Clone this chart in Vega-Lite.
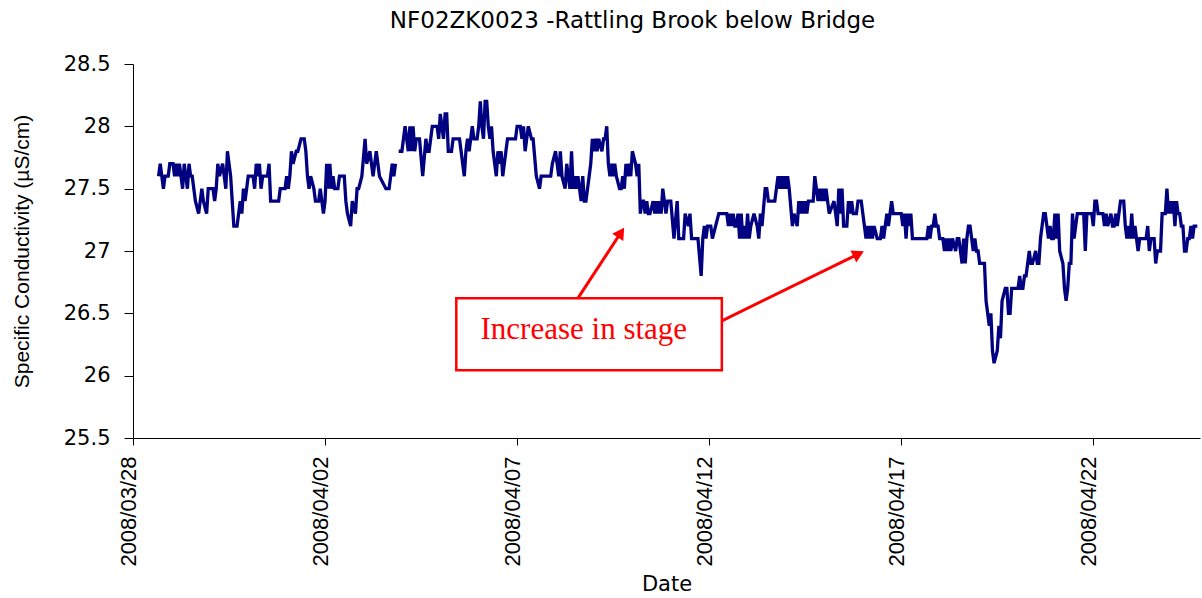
{
"$schema":"https://vega.github.io/schema/vega-lite/v6.json",
"width":1067,"height":374,
"autosize":{"type":"none"},
"padding":{"left":133,"top":64,"right":2,"bottom":160},
"background":"white",
"config":{"view":{"stroke":null}},
"title":{"text":"NF02ZK0023 -Rattling Brook below Bridge","font":"DejaVu Sans","fontSize":23,"fontWeight":"normal","color":"black","frame":"group","anchor":"middle","offset":20,"dx":-34},
"datasets":{
"cond":[
{"t":"2008-03-28T16:00","v":27.6},{"t":"2008-03-28T17:00","v":27.7},{"t":"2008-03-28T19:00","v":27.5},{"t":"2008-03-28T20:00","v":27.6},{"t":"2008-03-28T22:00","v":27.6},{"t":"2008-03-28T23:00","v":27.7},
{"t":"2008-03-29T01:00","v":27.7},{"t":"2008-03-29T02:00","v":27.6},{"t":"2008-03-29T03:00","v":27.7},{"t":"2008-03-29T04:00","v":27.6},{"t":"2008-03-29T05:00","v":27.7},{"t":"2008-03-29T07:00","v":27.5},{"t":"2008-03-29T08:00","v":27.7},{"t":"2008-03-29T09:00","v":27.6},{"t":"2008-03-29T10:00","v":27.5},{"t":"2008-03-29T11:00","v":27.7},{"t":"2008-03-29T12:00","v":27.6},{"t":"2008-03-29T13:00","v":27.6},{"t":"2008-03-29T14:00","v":27.5},{"t":"2008-03-29T15:00","v":27.4},{"t":"2008-03-29T17:00","v":27.3},{"t":"2008-03-29T18:00","v":27.4},{"t":"2008-03-29T19:00","v":27.5},{"t":"2008-03-29T20:00","v":27.4},{"t":"2008-03-29T22:00","v":27.3},{"t":"2008-03-29T23:00","v":27.5},
{"t":"2008-03-30T02:00","v":27.5},{"t":"2008-03-30T03:00","v":27.4},{"t":"2008-03-30T04:00","v":27.5},{"t":"2008-03-30T05:00","v":27.7},{"t":"2008-03-30T06:00","v":27.6},{"t":"2008-03-30T08:00","v":27.7},{"t":"2008-03-30T09:00","v":27.6},{"t":"2008-03-30T10:00","v":27.5},{"t":"2008-03-30T11:00","v":27.8},{"t":"2008-03-30T13:00","v":27.6},{"t":"2008-03-30T14:00","v":27.4},{"t":"2008-03-30T15:00","v":27.2},{"t":"2008-03-30T17:00","v":27.2},{"t":"2008-03-30T18:00","v":27.3},{"t":"2008-03-30T19:00","v":27.4},{"t":"2008-03-30T20:00","v":27.3},{"t":"2008-03-30T21:00","v":27.5},{"t":"2008-03-30T22:00","v":27.4},{"t":"2008-03-30T23:00","v":27.5},
{"t":"2008-03-31T00:00","v":27.6},{"t":"2008-03-31T03:00","v":27.6},{"t":"2008-03-31T04:00","v":27.5},{"t":"2008-03-31T05:00","v":27.7},{"t":"2008-03-31T06:00","v":27.6},{"t":"2008-03-31T07:00","v":27.7},{"t":"2008-03-31T08:00","v":27.5},{"t":"2008-03-31T09:00","v":27.6},{"t":"2008-03-31T12:00","v":27.6},{"t":"2008-03-31T13:00","v":27.7},{"t":"2008-03-31T14:00","v":27.4},{"t":"2008-03-31T19:00","v":27.4},{"t":"2008-03-31T20:00","v":27.5},{"t":"2008-03-31T23:00","v":27.5},
{"t":"2008-04-01T00:00","v":27.6},{"t":"2008-04-01T01:00","v":27.5},{"t":"2008-04-01T02:00","v":27.6},{"t":"2008-04-01T03:00","v":27.8},{"t":"2008-04-01T04:00","v":27.7},{"t":"2008-04-01T06:00","v":27.8},{"t":"2008-04-01T07:00","v":27.8},{"t":"2008-04-01T09:00","v":27.9},{"t":"2008-04-01T11:00","v":27.9},{"t":"2008-04-01T12:00","v":27.8},{"t":"2008-04-01T13:00","v":27.6},{"t":"2008-04-01T14:00","v":27.5},{"t":"2008-04-01T15:00","v":27.6},{"t":"2008-04-01T17:00","v":27.5},{"t":"2008-04-01T18:00","v":27.4},{"t":"2008-04-01T20:00","v":27.4},{"t":"2008-04-01T21:00","v":27.5},{"t":"2008-04-01T23:00","v":27.3},
{"t":"2008-04-02T00:00","v":27.4},{"t":"2008-04-02T01:00","v":27.7},{"t":"2008-04-02T02:00","v":27.5},{"t":"2008-04-02T03:00","v":27.7},{"t":"2008-04-02T04:00","v":27.5},{"t":"2008-04-02T05:00","v":27.6},{"t":"2008-04-02T06:00","v":27.5},{"t":"2008-04-02T08:00","v":27.5},{"t":"2008-04-02T09:00","v":27.6},{"t":"2008-04-02T12:00","v":27.6},{"t":"2008-04-02T13:00","v":27.4},{"t":"2008-04-02T14:00","v":27.3},{"t":"2008-04-02T16:00","v":27.2},{"t":"2008-04-02T17:00","v":27.4},{"t":"2008-04-02T19:00","v":27.3},{"t":"2008-04-02T20:00","v":27.5},{"t":"2008-04-02T21:00","v":27.5},{"t":"2008-04-02T23:00","v":27.6},
{"t":"2008-04-03T01:00","v":27.9},{"t":"2008-04-03T02:00","v":27.7},{"t":"2008-04-03T04:00","v":27.8},{"t":"2008-04-03T06:00","v":27.6},{"t":"2008-04-03T08:00","v":27.8},{"t":"2008-04-03T09:00","v":27.7},{"t":"2008-04-03T10:00","v":27.6},{"t":"2008-04-03T14:00","v":27.5},{"t":"2008-04-03T16:00","v":27.5},{"t":"2008-04-03T17:00","v":27.6},{"t":"2008-04-03T18:00","v":27.7},{"t":"2008-04-03T19:00","v":27.6},{"t":"2008-04-03T20:00","v":27.7},{"t":"2008-04-03T21:00","v":null},{"t":"2008-04-03T22:00","v":27.8},
{"t":"2008-04-04T00:00","v":27.8},{"t":"2008-04-04T02:00","v":28.0},{"t":"2008-04-04T04:00","v":27.8},{"t":"2008-04-04T05:00","v":28.0},{"t":"2008-04-04T06:00","v":27.8},{"t":"2008-04-04T07:00","v":28.0},{"t":"2008-04-04T08:00","v":27.8},{"t":"2008-04-04T09:00","v":27.9},{"t":"2008-04-04T11:00","v":27.9},{"t":"2008-04-04T13:00","v":27.6},{"t":"2008-04-04T15:00","v":27.9},{"t":"2008-04-04T16:00","v":27.8},{"t":"2008-04-04T17:00","v":27.8},{"t":"2008-04-04T18:00","v":27.9},{"t":"2008-04-04T19:00","v":28.0},{"t":"2008-04-04T22:00","v":28.0},{"t":"2008-04-04T23:00","v":27.9},
{"t":"2008-04-05T00:00","v":28.1},{"t":"2008-04-05T01:00","v":28.0},{"t":"2008-04-05T02:00","v":27.9},{"t":"2008-04-05T03:00","v":28.1},{"t":"2008-04-05T04:00","v":28.1},{"t":"2008-04-05T05:00","v":27.8},{"t":"2008-04-05T07:00","v":27.8},{"t":"2008-04-05T08:00","v":27.9},{"t":"2008-04-05T12:00","v":27.9},{"t":"2008-04-05T13:00","v":27.8},{"t":"2008-04-05T15:00","v":27.6},{"t":"2008-04-05T16:00","v":27.8},{"t":"2008-04-05T17:00","v":27.9},{"t":"2008-04-05T18:00","v":27.8},{"t":"2008-04-05T20:00","v":28.0},{"t":"2008-04-05T21:00","v":27.9},{"t":"2008-04-05T23:00","v":27.9},
{"t":"2008-04-06T00:00","v":28.0},{"t":"2008-04-06T01:00","v":28.2},{"t":"2008-04-06T02:00","v":28.0},{"t":"2008-04-06T03:00","v":27.9},{"t":"2008-04-06T04:00","v":28.2},{"t":"2008-04-06T05:00","v":28.2},{"t":"2008-04-06T06:00","v":28.0},{"t":"2008-04-06T07:00","v":27.9},{"t":"2008-04-06T08:00","v":28.0},{"t":"2008-04-06T09:00","v":27.8},{"t":"2008-04-06T10:00","v":27.7},{"t":"2008-04-06T11:00","v":27.6},{"t":"2008-04-06T12:00","v":27.8},{"t":"2008-04-06T13:00","v":27.7},{"t":"2008-04-06T14:00","v":27.8},{"t":"2008-04-06T15:00","v":27.6},{"t":"2008-04-06T16:00","v":27.7},{"t":"2008-04-06T17:00","v":27.8},{"t":"2008-04-06T18:00","v":27.9},{"t":"2008-04-06T23:00","v":27.9},
{"t":"2008-04-07T00:00","v":28.0},{"t":"2008-04-07T02:00","v":28.0},{"t":"2008-04-07T03:00","v":27.9},{"t":"2008-04-07T04:00","v":28.0},{"t":"2008-04-07T05:00","v":27.8},{"t":"2008-04-07T07:00","v":28.0},{"t":"2008-04-07T09:00","v":27.9},{"t":"2008-04-07T10:00","v":27.9},{"t":"2008-04-07T12:00","v":27.6},{"t":"2008-04-07T14:00","v":27.5},{"t":"2008-04-07T15:00","v":27.6},{"t":"2008-04-07T21:00","v":27.6},{"t":"2008-04-07T22:00","v":27.7},
{"t":"2008-04-08T00:00","v":27.8},{"t":"2008-04-08T01:00","v":27.7},{"t":"2008-04-08T02:00","v":27.6},{"t":"2008-04-08T03:00","v":27.8},{"t":"2008-04-08T04:00","v":27.6},{"t":"2008-04-08T06:00","v":27.5},{"t":"2008-04-08T07:00","v":27.7},{"t":"2008-04-08T08:00","v":27.6},{"t":"2008-04-08T09:00","v":27.5},{"t":"2008-04-08T10:00","v":27.8},{"t":"2008-04-08T11:00","v":27.5},{"t":"2008-04-08T12:00","v":27.6},{"t":"2008-04-08T13:00","v":27.5},{"t":"2008-04-08T14:00","v":27.6},{"t":"2008-04-08T16:00","v":27.4},{"t":"2008-04-08T17:00","v":27.6},{"t":"2008-04-08T18:00","v":27.4},{"t":"2008-04-08T19:00","v":27.4},{"t":"2008-04-08T21:00","v":27.6},{"t":"2008-04-08T22:00","v":27.7},{"t":"2008-04-08T23:00","v":27.9},
{"t":"2008-04-09T00:00","v":27.8},{"t":"2008-04-09T01:00","v":27.9},{"t":"2008-04-09T02:00","v":27.8},{"t":"2008-04-09T03:00","v":27.9},{"t":"2008-04-09T05:00","v":27.8},{"t":"2008-04-09T06:00","v":27.9},{"t":"2008-04-09T07:00","v":27.9},{"t":"2008-04-09T08:00","v":28.0},{"t":"2008-04-09T09:00","v":27.7},{"t":"2008-04-09T10:00","v":27.6},{"t":"2008-04-09T11:00","v":27.7},{"t":"2008-04-09T12:00","v":27.6},{"t":"2008-04-09T13:00","v":27.7},{"t":"2008-04-09T14:00","v":27.6},{"t":"2008-04-09T16:00","v":27.5},{"t":"2008-04-09T17:00","v":27.5},{"t":"2008-04-09T18:00","v":27.6},{"t":"2008-04-09T19:00","v":27.5},{"t":"2008-04-09T20:00","v":27.7},{"t":"2008-04-09T21:00","v":27.6},{"t":"2008-04-09T22:00","v":27.7},{"t":"2008-04-09T23:00","v":27.6},
{"t":"2008-04-10T00:00","v":27.8},{"t":"2008-04-10T02:00","v":27.7},{"t":"2008-04-10T03:00","v":27.6},{"t":"2008-04-10T04:00","v":27.7},{"t":"2008-04-10T05:00","v":27.3},{"t":"2008-04-10T06:00","v":27.4},{"t":"2008-04-10T07:00","v":27.4},{"t":"2008-04-10T08:00","v":27.3},{"t":"2008-04-10T09:00","v":27.4},{"t":"2008-04-10T10:00","v":27.3},{"t":"2008-04-10T11:00","v":27.3},{"t":"2008-04-10T13:00","v":27.4},{"t":"2008-04-10T14:00","v":27.3},{"t":"2008-04-10T15:00","v":27.4},{"t":"2008-04-10T16:00","v":27.3},{"t":"2008-04-10T17:00","v":27.4},{"t":"2008-04-10T18:00","v":27.3},{"t":"2008-04-10T19:00","v":27.5},{"t":"2008-04-10T20:00","v":27.4},{"t":"2008-04-10T21:00","v":27.3},{"t":"2008-04-10T22:00","v":27.4},
{"t":"2008-04-11T00:00","v":27.4},{"t":"2008-04-11T02:00","v":27.1},{"t":"2008-04-11T04:00","v":27.4},{"t":"2008-04-11T05:00","v":27.1},{"t":"2008-04-11T08:00","v":27.1},{"t":"2008-04-11T09:00","v":27.3},{"t":"2008-04-11T11:00","v":27.2},{"t":"2008-04-11T12:00","v":27.3},{"t":"2008-04-11T13:00","v":27.1},{"t":"2008-04-11T17:00","v":27.1},{"t":"2008-04-11T19:00","v":26.8},{"t":"2008-04-11T20:00","v":27.1},{"t":"2008-04-11T21:00","v":27.2},{"t":"2008-04-11T22:00","v":27.1},{"t":"2008-04-11T23:00","v":27.2},
{"t":"2008-04-12T01:00","v":27.2},{"t":"2008-04-12T02:00","v":27.1},{"t":"2008-04-12T04:00","v":27.2},{"t":"2008-04-12T06:00","v":27.3},{"t":"2008-04-12T11:00","v":27.3},{"t":"2008-04-12T12:00","v":27.2},{"t":"2008-04-12T13:00","v":27.3},{"t":"2008-04-12T14:00","v":27.2},{"t":"2008-04-12T15:00","v":27.3},{"t":"2008-04-12T16:00","v":27.2},{"t":"2008-04-12T17:00","v":27.2},{"t":"2008-04-12T18:00","v":27.3},{"t":"2008-04-12T19:00","v":27.1},{"t":"2008-04-12T20:00","v":27.3},{"t":"2008-04-12T21:00","v":27.1},{"t":"2008-04-12T22:00","v":27.2},{"t":"2008-04-12T23:00","v":27.1},
{"t":"2008-04-13T00:00","v":27.3},{"t":"2008-04-13T01:00","v":27.1},{"t":"2008-04-13T02:00","v":27.2},{"t":"2008-04-13T04:00","v":27.3},{"t":"2008-04-13T06:00","v":27.2},{"t":"2008-04-13T07:00","v":27.1},{"t":"2008-04-13T08:00","v":27.3},{"t":"2008-04-13T09:00","v":27.2},{"t":"2008-04-13T11:00","v":27.5},{"t":"2008-04-13T12:00","v":27.5},{"t":"2008-04-13T13:00","v":27.4},{"t":"2008-04-13T16:00","v":27.4},{"t":"2008-04-13T17:00","v":27.4},{"t":"2008-04-13T19:00","v":27.6},{"t":"2008-04-13T20:00","v":27.5},{"t":"2008-04-13T21:00","v":27.6},{"t":"2008-04-13T22:00","v":27.5},{"t":"2008-04-13T23:00","v":27.6},
{"t":"2008-04-14T00:00","v":27.5},{"t":"2008-04-14T01:00","v":27.6},{"t":"2008-04-14T02:00","v":27.5},{"t":"2008-04-14T04:00","v":27.2},{"t":"2008-04-14T05:00","v":27.3},{"t":"2008-04-14T07:00","v":27.2},{"t":"2008-04-14T08:00","v":27.4},{"t":"2008-04-14T09:00","v":27.3},{"t":"2008-04-14T10:00","v":27.4},{"t":"2008-04-14T11:00","v":27.3},{"t":"2008-04-14T12:00","v":27.4},{"t":"2008-04-14T13:00","v":27.3},{"t":"2008-04-14T14:00","v":27.4},{"t":"2008-04-14T17:00","v":27.4},{"t":"2008-04-14T18:00","v":27.6},{"t":"2008-04-14T19:00","v":27.5},{"t":"2008-04-14T20:00","v":27.4},{"t":"2008-04-14T21:00","v":27.5},{"t":"2008-04-14T22:00","v":27.4},{"t":"2008-04-14T23:00","v":27.5},
{"t":"2008-04-15T00:00","v":27.4},{"t":"2008-04-15T01:00","v":27.5},{"t":"2008-04-15T02:00","v":27.4},{"t":"2008-04-15T03:00","v":27.3},{"t":"2008-04-15T06:00","v":27.4},{"t":"2008-04-15T07:00","v":27.3},{"t":"2008-04-15T08:00","v":27.2},{"t":"2008-04-15T09:00","v":27.5},{"t":"2008-04-15T10:00","v":27.3},{"t":"2008-04-15T11:00","v":27.5},{"t":"2008-04-15T12:00","v":27.2},{"t":"2008-04-15T14:00","v":27.2},{"t":"2008-04-15T15:00","v":27.4},{"t":"2008-04-15T16:00","v":27.3},{"t":"2008-04-15T17:00","v":27.4},{"t":"2008-04-15T18:00","v":27.3},{"t":"2008-04-15T20:00","v":27.3},{"t":"2008-04-15T21:00","v":27.4},{"t":"2008-04-15T23:00","v":27.4},
{"t":"2008-04-16T00:00","v":27.3},{"t":"2008-04-16T01:00","v":27.2},{"t":"2008-04-16T02:00","v":27.1},{"t":"2008-04-16T03:00","v":27.2},{"t":"2008-04-16T04:00","v":27.1},{"t":"2008-04-16T05:00","v":27.2},{"t":"2008-04-16T06:00","v":27.1},{"t":"2008-04-16T07:00","v":27.2},{"t":"2008-04-16T09:00","v":27.1},{"t":"2008-04-16T11:00","v":27.1},{"t":"2008-04-16T12:00","v":27.2},{"t":"2008-04-16T13:00","v":27.1},{"t":"2008-04-16T14:00","v":27.2},{"t":"2008-04-16T15:00","v":27.3},{"t":"2008-04-16T16:00","v":27.2},{"t":"2008-04-16T17:00","v":27.3},{"t":"2008-04-16T18:00","v":27.4},{"t":"2008-04-16T19:00","v":27.3},
{"t":"2008-04-17T00:00","v":27.3},{"t":"2008-04-17T01:00","v":27.2},{"t":"2008-04-17T02:00","v":27.3},{"t":"2008-04-17T03:00","v":27.1},{"t":"2008-04-17T04:00","v":27.3},{"t":"2008-04-17T05:00","v":27.2},{"t":"2008-04-17T06:00","v":27.3},{"t":"2008-04-17T07:00","v":27.1},{"t":"2008-04-17T16:00","v":27.1},{"t":"2008-04-17T17:00","v":27.2},{"t":"2008-04-17T18:00","v":27.1},{"t":"2008-04-17T19:00","v":27.2},{"t":"2008-04-17T20:00","v":27.2},{"t":"2008-04-17T21:00","v":27.3},{"t":"2008-04-17T22:00","v":27.2},{"t":"2008-04-17T23:00","v":27.2},
{"t":"2008-04-18T00:00","v":27.1},{"t":"2008-04-18T02:00","v":27.1},{"t":"2008-04-18T03:00","v":27.0},{"t":"2008-04-18T04:00","v":27.1},{"t":"2008-04-18T05:00","v":27.0},{"t":"2008-04-18T06:00","v":27.1},{"t":"2008-04-18T07:00","v":27.0},{"t":"2008-04-18T08:00","v":27.1},{"t":"2008-04-18T10:00","v":27.0},{"t":"2008-04-18T11:00","v":27.1},{"t":"2008-04-18T12:00","v":27.1},{"t":"2008-04-18T13:00","v":27.0},{"t":"2008-04-18T14:00","v":26.9},{"t":"2008-04-18T15:00","v":27.1},{"t":"2008-04-18T16:00","v":26.9},{"t":"2008-04-18T17:00","v":27.1},{"t":"2008-04-18T18:00","v":27.2},{"t":"2008-04-18T19:00","v":27.2},{"t":"2008-04-18T20:00","v":27.1},{"t":"2008-04-18T21:00","v":27.0},{"t":"2008-04-18T22:00","v":27.1},{"t":"2008-04-18T23:00","v":27.0},
{"t":"2008-04-19T00:00","v":27.0},{"t":"2008-04-19T01:00","v":26.9},{"t":"2008-04-19T04:00","v":26.9},{"t":"2008-04-19T05:00","v":26.6},{"t":"2008-04-19T06:00","v":26.5},{"t":"2008-04-19T07:00","v":26.4},{"t":"2008-04-19T08:00","v":26.5},{"t":"2008-04-19T09:00","v":26.2},{"t":"2008-04-19T10:00","v":26.1},{"t":"2008-04-19T12:00","v":26.2},{"t":"2008-04-19T13:00","v":26.4},{"t":"2008-04-19T14:00","v":26.3},{"t":"2008-04-19T15:00","v":26.6},{"t":"2008-04-19T17:00","v":26.7},{"t":"2008-04-19T18:00","v":26.7},{"t":"2008-04-19T19:00","v":26.5},{"t":"2008-04-19T20:00","v":26.5},{"t":"2008-04-19T21:00","v":26.7},
{"t":"2008-04-20T01:00","v":26.7},{"t":"2008-04-20T02:00","v":26.8},{"t":"2008-04-20T03:00","v":26.7},{"t":"2008-04-20T04:00","v":26.7},{"t":"2008-04-20T05:00","v":26.8},{"t":"2008-04-20T06:00","v":26.8},{"t":"2008-04-20T08:00","v":27.0},{"t":"2008-04-20T09:00","v":26.9},{"t":"2008-04-20T10:00","v":26.9},{"t":"2008-04-20T12:00","v":27.0},{"t":"2008-04-20T13:00","v":26.9},{"t":"2008-04-20T14:00","v":26.9},{"t":"2008-04-20T15:00","v":27.1},{"t":"2008-04-20T16:00","v":27.2},{"t":"2008-04-20T17:00","v":27.3},{"t":"2008-04-20T18:00","v":27.3},{"t":"2008-04-20T19:00","v":27.2},{"t":"2008-04-20T20:00","v":27.1},{"t":"2008-04-20T21:00","v":27.2},{"t":"2008-04-20T22:00","v":27.1},{"t":"2008-04-20T23:00","v":27.1},
{"t":"2008-04-21T00:00","v":27.3},{"t":"2008-04-21T01:00","v":27.1},{"t":"2008-04-21T02:00","v":27.3},{"t":"2008-04-21T03:00","v":27.0},{"t":"2008-04-21T05:00","v":26.9},{"t":"2008-04-21T06:00","v":26.7},{"t":"2008-04-21T07:00","v":26.6},{"t":"2008-04-21T08:00","v":26.7},{"t":"2008-04-21T09:00","v":26.9},{"t":"2008-04-21T10:00","v":26.9},{"t":"2008-04-21T11:00","v":27.3},{"t":"2008-04-21T12:00","v":27.1},{"t":"2008-04-21T13:00","v":27.2},{"t":"2008-04-21T14:00","v":27.3},{"t":"2008-04-21T18:00","v":27.3},{"t":"2008-04-21T19:00","v":27.0},{"t":"2008-04-21T20:00","v":27.3},{"t":"2008-04-21T23:00","v":27.3},
{"t":"2008-04-22T00:00","v":27.2},{"t":"2008-04-22T01:00","v":27.4},{"t":"2008-04-22T02:00","v":27.4},{"t":"2008-04-22T03:00","v":27.3},{"t":"2008-04-22T06:00","v":27.3},{"t":"2008-04-22T07:00","v":27.2},{"t":"2008-04-22T08:00","v":27.3},{"t":"2008-04-22T09:00","v":27.2},{"t":"2008-04-22T11:00","v":27.3},{"t":"2008-04-22T12:00","v":27.2},{"t":"2008-04-22T13:00","v":27.2},{"t":"2008-04-22T14:00","v":27.3},{"t":"2008-04-22T15:00","v":27.2},{"t":"2008-04-22T16:00","v":27.3},{"t":"2008-04-22T17:00","v":27.4},{"t":"2008-04-22T19:00","v":27.4},{"t":"2008-04-22T20:00","v":27.2},{"t":"2008-04-22T21:00","v":27.1},{"t":"2008-04-22T22:00","v":27.2},{"t":"2008-04-22T23:00","v":27.1},
{"t":"2008-04-23T00:00","v":27.3},{"t":"2008-04-23T01:00","v":27.1},{"t":"2008-04-23T02:00","v":27.2},{"t":"2008-04-23T03:00","v":27.1},{"t":"2008-04-23T04:00","v":27.0},{"t":"2008-04-23T05:00","v":27.1},{"t":"2008-04-23T09:00","v":27.1},{"t":"2008-04-23T10:00","v":27.2},{"t":"2008-04-23T11:00","v":27.0},{"t":"2008-04-23T12:00","v":27.1},{"t":"2008-04-23T14:00","v":27.1},{"t":"2008-04-23T15:00","v":26.9},{"t":"2008-04-23T16:00","v":27.0},{"t":"2008-04-23T18:00","v":27.0},{"t":"2008-04-23T19:00","v":27.3},{"t":"2008-04-23T21:00","v":27.3},{"t":"2008-04-23T22:00","v":27.5},{"t":"2008-04-23T23:00","v":27.3},
{"t":"2008-04-24T00:00","v":27.4},{"t":"2008-04-24T01:00","v":27.3},{"t":"2008-04-24T02:00","v":27.4},{"t":"2008-04-24T03:00","v":27.2},{"t":"2008-04-24T04:00","v":27.4},{"t":"2008-04-24T05:00","v":27.3},{"t":"2008-04-24T06:00","v":27.3},{"t":"2008-04-24T07:00","v":27.2},{"t":"2008-04-24T08:00","v":27.2},{"t":"2008-04-24T09:00","v":27.0},{"t":"2008-04-24T10:00","v":27.0},{"t":"2008-04-24T11:00","v":27.1},{"t":"2008-04-24T12:00","v":27.1},{"t":"2008-04-24T13:00","v":27.2},{"t":"2008-04-24T14:00","v":27.1},{"t":"2008-04-24T15:00","v":27.2},{"t":"2008-04-24T17:00","v":27.2}
],
"arrows":[{"t":"2008-04-08T13:55","v":26.62,"t2":"2008-04-09T16:52","v2":27.148},{"t":"2008-04-12T07:55","v":26.44,"t2":"2008-04-15T21:22","v2":26.977}],
"head1":[{"t":"2008-04-09T16:52","v":27.148}],
"head2":[{"t":"2008-04-15T21:22","v":26.977}],
"box":[{"t":"2008-04-05T10:00","t2":"2008-04-12T07:55","v":26.62,"v2":26.044}],
"note":[{"t":"2008-04-08T17:40","v":26.37,"label":"Increase in stage"}]
},
"encoding":{
"x":{"field":"t","type":"temporal",
"scale":{"domain":[{"year":2008,"month":3,"date":28},{"year":2008,"month":4,"date":24,"hours":18,"minutes":40}]},
"axis":{"values":[{"year":2008,"month":3,"date":28},{"year":2008,"month":4,"date":2},{"year":2008,"month":4,"date":7},{"year":2008,"month":4,"date":12},{"year":2008,"month":4,"date":17},{"year":2008,"month":4,"date":22}],
"format":"%Y/%m/%d","labelAngle":-90,"labelFont":"Liberation Sans","labelFontSize":22,"labelColor":"black","labelPadding":11,"labelOffset":-5,
"tickSize":7,"tickColor":"black","domainColor":"black","grid":false,
"title":"Date","titleFont":"DejaVu Sans","titleFontSize":21,"titleFontWeight":"normal","titleColor":"black","titleY":135}},
"y":{"field":"v","type":"quantitative",
"scale":{"domain":[25.5,28.5],"nice":false,"zero":false},
"axis":{"values":[25.5,26,26.5,27,27.5,28,28.5],"format":"~g","labelFont":"DejaVu Sans","labelFontSize":21,"labelColor":"black","labelPadding":14,
"tickSize":9,"tickColor":"black","domainColor":"black","grid":false,
"title":"Specific Conductivity (µS/cm)","titleFont":"Liberation Sans","titleFontSize":21,"titleFontWeight":"normal","titleColor":"black","titleX":-101,"titleY":187}}
},
"layer":[
{"data":{"name":"cond"},"mark":{"type":"line","color":"#000080","strokeWidth":3.3,"invalid":"break-paths-show-domains"}},
{"data":{"name":"box"},"mark":{"type":"rect","fill":"white","stroke":"#ff0000","strokeWidth":2.5},"encoding":{"x2":{"field":"t2"},"y2":{"field":"v2"}}},
{"data":{"name":"note"},"mark":{"type":"text","font":"Liberation Serif","fontSize":31,"color":"#ff0000","align":"center","baseline":"middle"},"encoding":{"text":{"field":"label"}}},
{"data":{"name":"arrows"},"mark":{"type":"rule","color":"#ff0000","strokeWidth":3},"encoding":{"x2":{"field":"t2"},"y2":{"field":"v2"}}},
{"data":{"name":"head1"},"mark":{"type":"point","shape":"triangle-up","angle":33.6,"size":180,"filled":true,"color":"#ff0000","opacity":1}},
{"data":{"name":"head2"},"mark":{"type":"point","shape":"triangle-up","angle":63.9,"size":180,"filled":true,"color":"#ff0000","opacity":1}}
]
}
